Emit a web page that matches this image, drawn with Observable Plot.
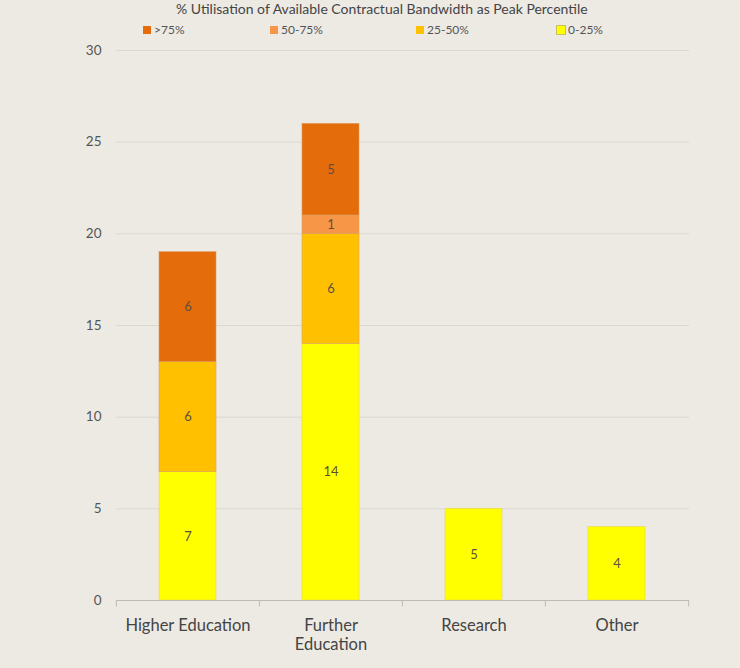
<!DOCTYPE html>
<html>
<head>
<meta charset="utf-8">
<script src="https://cdn.jsdelivr.net/npm/d3@7"></script>
<script src="https://cdn.jsdelivr.net/npm/@observablehq/plot@0.6"></script>
<style>
  html, body { margin: 0; padding: 0; background: #EDEAE4; overflow: hidden; }
  body { width: 740px; height: 668px; position: relative; font-family: Lato, "Open Sans", sans-serif; }
  #title { position: absolute; left: 176px; top: 1px; font-size: 14px; line-height: 16px; color: #444; white-space: nowrap; }
  #legend { position: absolute; top: 22px; left: 0; width: 740px; height: 18px; font-size: 12px; color: #555; }
  #legend .item { position: absolute; display: flex; align-items: center; gap: 3px; }
  #legend .sw { width: 8px; height: 8px; display: inline-block; }
  #chart { position: absolute; top: 0; left: 0; }
</style>
</head>
<body>
<div id="chart"></div>
<div id="title">% Utilisation of Available Contractual Bandwidth as Peak Percentile</div>
<div id="legend"></div>
<script>
const categories = ["Higher Education", "Further Education", "Research", "Other"];
const categoryLabels = ["Higher Education", "Further\nEducation", "Research", "Other"];
const series = ["0-25%", "25-50%", "50-75%", ">75%"];
const legendOrder = [">75%", "50-75%", "25-50%", "0-25%"];
const colors = ["#FFFF00", "#FFC000", "#F79646", "#E46C0A"];
const v0_25 = [7, 14, 5, 4];
const v25_50 = [6, 6, 0, 0];
const v50_75 = [0, 1, 0, 0];
const v75 = [6, 5, 0, 0];
const yTicks = [0, 5, 10, 15, 20, 25, 30];

const valuesBySeries = [v0_25, v25_50, v50_75, v75];
const rows = [];
series.forEach((s, si) => {
  categories.forEach((c, ci) => {
    rows.push({category: c, series: s, value: valuesBySeries[si][ci]});
  });
});
const nonZero = rows.filter(d => d.value > 0);

const colorScale = {domain: series, range: colors};
const labelMap = new Map(categories.map((c, i) => [c, categoryLabels[i]]));

const width = 740, height = 668;
const marginLeft = 116, marginRight = 51, marginTop = 50, marginBottom = 68;
const bandStep = (width - marginLeft - marginRight) / categories.length;

const plot = Plot.plot({
  width, height, marginLeft, marginRight, marginTop, marginBottom,
  style: {background: "transparent", fontFamily: "Lato, 'Open Sans', sans-serif"},
  x: {domain: categories, paddingInner: 0.6, paddingOuter: 0.3, label: null},
  y: {domain: [0, 30], label: null},
  color: colorScale,
  marks: [
    Plot.gridY(yTicks.filter(t => t > 0), {stroke: "#DCD8D0", strokeOpacity: 1, strokeWidth: 1}),
    Plot.barY(nonZero, Plot.stackY({
      x: "category", y: "value", z: "series", fill: "series", order: series,
      stroke: d => d.series === "0-25%" ? "#E6D84A" : "#D9A060", strokeWidth: 0.6
    })),
    Plot.text(nonZero, Plot.stackY({
      x: "category", y: "value", z: "series", order: series, text: d => String(d.value),
      fill: "#5E5040", fontSize: 13
    })),
    Plot.ruleY([0], {stroke: "#BDBAB4", strokeWidth: 1.2}),
    Plot.ruleX(categories, {
      x: d => d, y1: 0, y2: -0.35, dx: -bandStep / 2, stroke: "#BDBAB4"
    }),
    Plot.ruleX(categories.slice(-1), {
      x: d => d, y1: 0, y2: -0.35, dx: bandStep / 2, stroke: "#BDBAB4"
    }),
    Plot.axisY(yTicks, {tickSize: 0, tickPadding: 15, fontSize: 13.5, fill: "#555", anchor: "left"}),
    Plot.axisX({tickSize: 0, tickPadding: 16, fontSize: 16.5, fill: "#444", tickFormat: d => labelMap.get(d), lineHeight: 1.2})
  ]
});

document.getElementById("chart").appendChild(plot);

// legend
const legendPos = [143, 270, 416, 557];
const legend = document.getElementById("legend");
legendOrder.forEach((s, i) => {
  const item = document.createElement("div");
  item.className = "item";
  item.style.left = legendPos[i] + "px";
  const sw = document.createElement("span");
  sw.className = "sw";
  sw.style.background = colors[series.indexOf(s)];
  if (s === "0-25%") sw.style.outline = "1px solid #C9C060";
  const t = document.createElement("span");
  t.textContent = s;
  item.appendChild(sw);
  item.appendChild(t);
  legend.appendChild(item);
});
</script>
</body>
</html>
